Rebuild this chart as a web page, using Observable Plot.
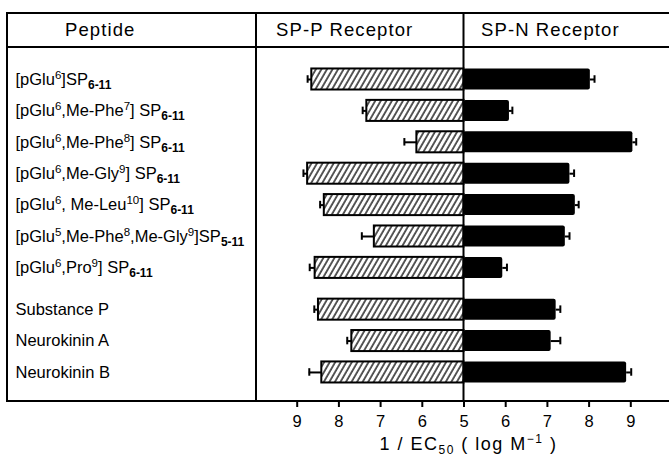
<!DOCTYPE html>
<html>
<head>
<meta charset="utf-8">
<script src="https://cdn.jsdelivr.net/npm/d3@7"></script>
<script src="https://cdn.jsdelivr.net/npm/@observablehq/plot@0.6"></script>
<style>
  html, body { margin: 0; padding: 0; background: white; }
  #chart { width: 669px; height: 456px; position: relative; }
</style>
</head>
<body>
<svg width="0" height="0" style="position:absolute">
  <defs>
    <pattern id="hatch" patternUnits="userSpaceOnUse" width="4.8" height="4.8" patternTransform="rotate(30)">
      <rect width="4.8" height="4.8" fill="white"></rect>
      <line x1="1" y1="-1" x2="1" y2="6" stroke="black" stroke-width="1.3"></line>
    </pattern>
  </defs>
</svg>
<div id="chart"></div>
<script>
// ---- data ----
const headers = ["Peptide", "SP-P Receptor", "SP-N Receptor"];
const peptides = [
  "[pGlu^{6}]SP_{6-11}",
  "[pGlu^{6},Me-Phe^{7}] SP_{6-11}",
  "[pGlu^{6},Me-Phe^{8}] SP_{6-11}",
  "[pGlu^{6},Me-Gly^{9}] SP_{6-11}",
  "[pGlu^{6}, Me-Leu^{10}] SP_{6-11}",
  "[pGlu^{5},Me-Phe^{8},Me-Gly^{9}]SP_{5-11}",
  "[pGlu^{6},Pro^{9}] SP_{6-11}",
  "Substance P",
  "Neurokinin A",
  "Neurokinin B"
];
const sppValues = [8.65, 7.33, 6.13, 8.75, 8.35, 7.15, 8.57, 8.49, 7.69, 8.41];
const sppErrors = [0.10, 0.10, 0.30, 0.10, 0.10, 0.30, 0.13, 0.10, 0.11, 0.30];
const spnValues = [8.03, 6.09, 9.05, 7.54, 7.67, 7.43, 5.93, 7.21, 7.09, 8.90];
const spnErrors = [0.10, 0.07, 0.08, 0.10, 0.08, 0.10, 0.10, 0.10, 0.22, 0.11];
const tickLabels = [9, 8, 7, 6, 5, 6, 7, 8, 9];
const baseValue = 5;

(function () {
// ---- derived table ----
const rowPos = i => i + (i >= 7 ? 0.33 : 0);
const rows = peptides.map((label, i) => ({
  label,
  pos: rowPos(i),
  spp: -(sppValues[i] - baseValue),
  sppEnd: -(sppValues[i] + sppErrors[i] - baseValue),
  spn: spnValues[i] - baseValue,
  spnEnd: spnValues[i] + spnErrors[i] - baseValue
}));
const tickPositions = tickLabels.map((v, i) => (i < 4 ? -(v - baseValue) : v - baseValue));
const half = 0.335, cap = 0.12;

const chart = Plot.plot({
  width: 669,
  height: 456,
  marginLeft: 256,
  marginRight: 0,
  marginTop: 47,
  marginBottom: 55,
  style: { fontFamily: "'Liberation Sans', Arial, sans-serif", color: "black", background: "white", overflow: "visible" },
  x: { domain: [-4.976, 4.928] },
  y: { domain: [-1.019, 10.255], reverse: true, axis: null },
  marks: [
    Plot.rect(rows, { x1: 0, x2: "spp", y1: d => d.pos - half, y2: d => d.pos + half, fill: "url(#hatch)", stroke: "black", strokeWidth: 2 }),
    Plot.rect(rows, { x1: 0, x2: "spn", y1: d => d.pos - half, y2: d => d.pos + half, fill: "black", rx: 2 }),
    Plot.ruleY(rows, { x1: "spp", x2: "sppEnd", y: "pos", stroke: "black", strokeWidth: 2 }),
    Plot.ruleX(rows, { x: "sppEnd", y1: d => d.pos - cap, y2: d => d.pos + cap, stroke: "black", strokeWidth: 2 }),
    Plot.ruleY(rows, { x1: "spn", x2: "spnEnd", y: "pos", stroke: "black", strokeWidth: 2 }),
    Plot.ruleX(rows, { x: "spnEnd", y1: d => d.pos - cap, y2: d => d.pos + cap, stroke: "black", strokeWidth: 2 }),
    Plot.text(rows, { y: "pos", text: "label", frameAnchor: "left", dx: -241, textAnchor: "start", fontSize: 16.5, className: "peptide-label" }),
    Plot.axisX({ ticks: tickPositions, tickFormat: d => tickLabels[tickPositions.indexOf(d)], tickSize: 6, tickPadding: 8, fontSize: 16.5, strokeWidth: 2, label: null })
  ]
});
document.getElementById("chart").appendChild(chart);

// ---- table decoration ----
const svg = d3.select(chart);
const cx = chart.scale("x").apply(0);
const yTop = 13, yHead = 47, yBottom = 401, xLeft = 7, xDivider = 256, xRight = 669;
const lines = [
  [xLeft, yTop, xRight, yTop], [xLeft, yHead, xRight, yHead], [xLeft, yBottom, xRight, yBottom],
  [xLeft, yTop, xLeft, yBottom], [xDivider, yTop, xDivider, yBottom], [cx, yTop, cx, yBottom]
];
svg.append("g").selectAll("line").data(lines).join("line")
  .attr("x1", d => d[0]).attr("y1", d => d[1]).attr("x2", d => d[2]).attr("y2", d => d[3])
  .attr("stroke", "black").attr("stroke-width", 2).attr("stroke-linecap", "square");

const headerX = [65, 276, 481];
svg.append("g").selectAll("text").data(headers).join("text")
  .attr("x", (d, i) => headerX[i]).attr("y", 36)
  .attr("text-anchor", "start")
  .attr("font-size", 18.5).attr("letter-spacing", "1.1px").attr("fill", "black")
  .text(d => d);

// rich text helper
function richText(sel, str, supSize, subSize, supShift, subShift, bold) {
  sel.text("");
  const re = /(\^|_)\{([^}]*)\}/g;
  let last = 0, m, shift = 0;
  const segs = [];
  while ((m = re.exec(str))) {
    if (m.index > last) segs.push({ t: str.slice(last, m.index), k: "n" });
    segs.push({ t: m[2], k: m[1] === "^" ? "sup" : "sub" });
    last = re.lastIndex;
  }
  if (last < str.length) segs.push({ t: str.slice(last), k: "n" });
  for (const s of segs) {
    const target = s.k === "sup" ? supShift : s.k === "sub" ? subShift : 0;
    const ts = sel.append("tspan").attr("dy", target - shift).text(s.t);
    if (s.k === "sup") ts.attr("font-size", supSize);
    if (s.k === "sub") { ts.attr("font-size", subSize); if (bold) ts.attr("font-weight", "bold"); }
    shift = target;
  }
}
svg.selectAll("g.peptide-label text").each(function (d, i) {
  richText(d3.select(this), peptides[i], 11.5, 12, -6, 4, true);
});

// axis title
const title = svg.append("text")
  .attr("x", cx + 5).attr("y", 450).attr("text-anchor", "middle")
  .attr("font-size", 18).attr("letter-spacing", "1.5px").attr("fill", "black");
richText(title, "1 / EC_{50} ( log M^{−1} )", 12, 12, -7, 4, false);
})();
</script>
</body>
</html>
